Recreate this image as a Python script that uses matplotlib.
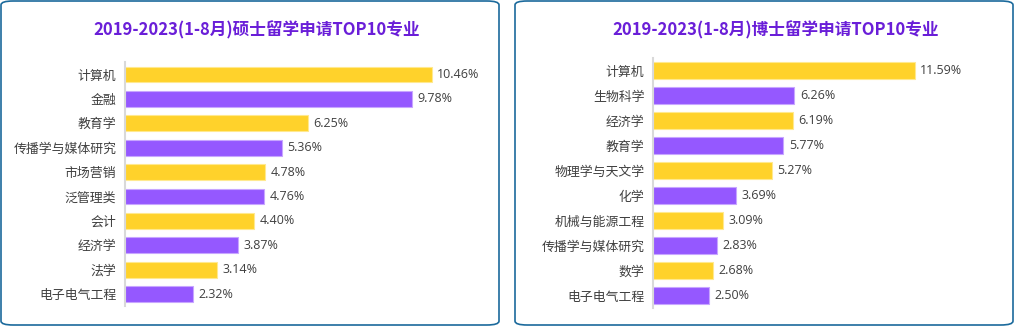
import matplotlib.pyplot as plt
from matplotlib.patches import FancyBboxPatch

plt.rcParams['font.family'] = ['Noto Sans CJK SC', 'DejaVu Sans']

# 硕士 (master) data
master_title = "2019-2023(1-8月)硕士留学申请TOP10专业"
master_majors = ["计算机", "金融", "教育学", "传播学与媒体研究", "市场营销",
                 "泛管理类", "会计", "经济学", "法学", "电子电气工程"]
master_values = [10.46, 9.78, 6.25, 5.36, 4.78, 4.76, 4.40, 3.87, 3.14, 2.32]

# 博士 (phd) data
phd_title = "2019-2023(1-8月)博士留学申请TOP10专业"
phd_majors = ["计算机", "生物科学", "经济学", "教育学", "物理学与天文学",
              "化学", "机械与能源工程", "传播学与媒体研究", "数学", "电子电气工程"]
phd_values = [11.59, 6.26, 6.19, 5.77, 5.27, 3.69, 3.09, 2.83, 2.68, 2.50]

yellow, purple = "#FFD22B", "#9558FF"
yellow_edge, purple_edge = "#FFE98F", "#C8A6FF"
W, H = 1014, 326

fig = plt.figure(figsize=(W / 100, H / 100), dpi=100)

# rounded panel borders
for x0, x1 in [(1, 499), (515, 1013)]:
    box = FancyBboxPatch((x0 / W, 1 / H), (x1 - x0) / W, (H - 2) / H,
                         boxstyle="round,pad=0,rounding_size=0.012",
                         transform=fig.transFigure, facecolor="white",
                         edgecolor="#1B6A9C", linewidth=1.2, zorder=-1)
    fig.patches.append(box)


def draw(rect, majors, values, xmax, bar_h):
    ax = fig.add_axes(rect)
    ax.set_zorder(2)
    ax.patch.set_alpha(0)
    ys = list(range(len(majors)))
    colors = [yellow if i % 2 == 0 else purple for i in ys]
    edges = [yellow_edge if i % 2 == 0 else purple_edge for i in ys]
    ax.barh(ys, values, height=bar_h, color=colors, edgecolor=edges, linewidth=0.8)
    for y, v in zip(ys, values):
        ax.annotate(f"{v:.2f}%", (v, y), xytext=(4, 0), textcoords="offset points",
                    va="center", ha="left", fontsize=9, color="#404040",
                    family=['Open Sans', 'DejaVu Sans'])
    ax.set_yticks(ys)
    ax.set_yticklabels(majors, fontsize=9.3, color="#404040")
    ax.set_ylim(len(majors) - 0.5, -0.5)
    ax.set_xlim(0, xmax)
    ax.set_xticks([])
    for s in ["top", "right", "bottom"]:
        ax.spines[s].set_visible(False)
    ax.spines["left"].set_color("#D9D9D9")
    ax.spines["left"].set_linewidth(1.5)
    ax.tick_params(axis="y", length=0, pad=6)
    return ax


draw([124.7 / W, 19.7 / H, 352 / W, 244 / H], master_majors, master_values, 12, 0.64)
draw([652.7 / W, 18 / H, 294 / W, 249.8 / H], phd_majors, phd_values, 13, 0.67)

fig.text(257 / W, 1 - 30 / H, master_title, ha="center", va="center",
         fontsize=12, fontweight="bold", color="#6A1ED8")
fig.text(776 / W, 1 - 30 / H, phd_title, ha="center", va="center",
         fontsize=12, fontweight="bold", color="#6A1ED8")

fig.savefig("out.png", dpi=100)
